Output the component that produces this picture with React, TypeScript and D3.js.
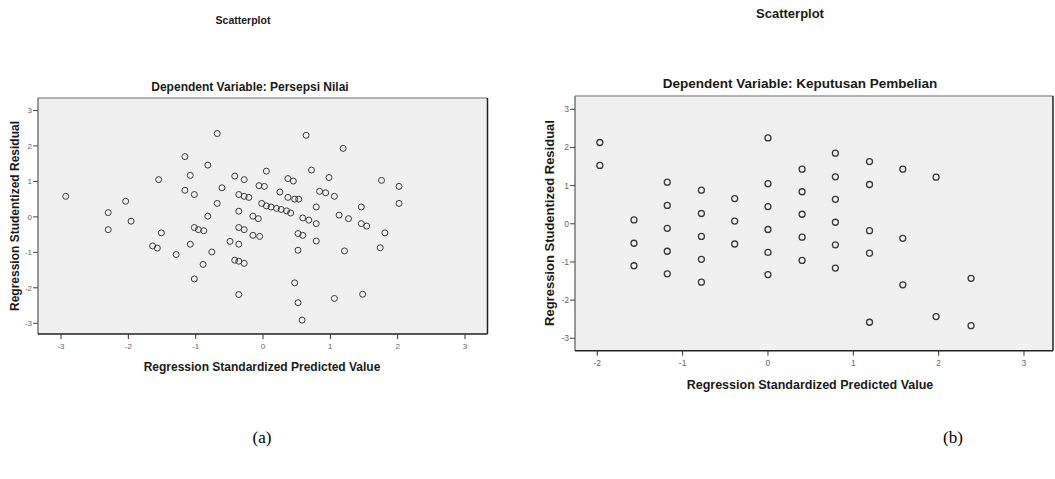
import React from 'react';
import * as d3 from 'd3';

// ---------- data ----------
const xTicksA = [-3, -2, -1, 0, 1, 2, 3];
const yTicksA = [-3, -2, -1, 0, 1, 2, 3];
const xTicksB = [-2, -1, 0, 1, 2, 3];
const yTicksB = [-3, -2, -1, 0, 1, 2, 3];

const predA = [
  -2.93, -2.30, -2.30, -2.04, -1.96, -1.55, -1.51, -1.64, -1.57, -1.29,
  -1.16, -1.08, -1.16, -1.02, -1.02, -0.96, -0.88, -1.08, -1.02, -0.89,
  -0.76, -0.82, -0.82, -0.68, -0.68, -0.61, -0.42, -0.28, -0.36, -0.28,
  -0.21, -0.36, -0.15, -0.07, -0.36, -0.28, -0.15, -0.05, -0.49, -0.36,
  -0.42, -0.36, -0.28, -0.36, -0.06, 0.02, 0.64, 1.19, 0.05, 0.37,
  0.45, 0.72, 0.98, 0.25, 0.37, 0.47, 0.53, 0.84, 0.93, 1.06,
  -0.02, 0.05, 0.12, 0.20, 0.27, 0.35, 0.41, 0.79, 0.59, 0.68,
  0.79, 1.13, 1.27, 1.46, 1.46, 1.54, 1.76, 2.02, 2.02, 1.81,
  1.74, 1.21, 0.52, 0.59, 0.79, 0.52, 0.47, 0.52, 0.58, 1.06,
  1.48,
];
const residA = [
  0.58, 0.12, -0.36, 0.44, -0.12, 1.05, -0.45, -0.82, -0.88, -1.06,
  1.70, 1.17, 0.75, 0.63, -0.30, -0.36, -0.39, -0.77, -1.75, -1.34,
  -0.99, 0.02, 1.46, 2.35, 0.38, 0.82, 1.15, 1.05, 0.63, 0.58,
  0.55, 0.16, 0.02, -0.05, -0.30, -0.36, -0.52, -0.55, -0.69, -0.77,
  -1.22, -1.25, -1.31, -2.19, 0.88, 0.86, 2.30, 1.93, 1.29, 1.08,
  1.01, 1.32, 1.11, 0.70, 0.55, 0.50, 0.50, 0.72, 0.68, 0.58,
  0.38, 0.31, 0.28, 0.24, 0.21, 0.17, 0.11, 0.28, -0.03, -0.09,
  -0.19, 0.05, -0.05, 0.28, -0.19, -0.26, 1.03, 0.86, 0.38, -0.45,
  -0.87, -0.96, -0.47, -0.52, -0.68, -0.94, -1.86, -2.42, -2.91, -2.30,
  -2.18,
];

const predB = [
  -1.97, -1.97,
  -1.57, -1.57, -1.57,
  -1.18, -1.18, -1.18, -1.18, -1.18,
  -0.78, -0.78, -0.78, -0.78, -0.78,
  -0.39, -0.39, -0.39,
  0.00, 0.00, 0.00, 0.00, 0.00, 0.00,
  0.40, 0.40, 0.40, 0.40, 0.40,
  0.79, 0.79, 0.79, 0.79, 0.79, 0.79,
  1.19, 1.19, 1.19, 1.19, 1.19,
  1.58, 1.58, 1.58,
  1.97, 1.97,
  2.38, 2.38,
];
const residB = [
  2.13, 1.53,
  0.10, -0.51, -1.10,
  1.09, 0.48, -0.12, -0.72, -1.31,
  0.88, 0.27, -0.33, -0.93, -1.53,
  0.66, 0.07, -0.53,
  2.25, 1.05, 0.45, -0.15, -0.75, -1.33,
  1.43, 0.84, 0.25, -0.35, -0.96,
  1.85, 1.23, 0.64, 0.04, -0.55, -1.16,
  1.63, 1.03, -0.18, -0.77, -2.58,
  1.43, -0.38, -1.60,
  1.22, -2.43,
  -1.43, -2.67,
];

const SANS = '"Liberation Sans", Arial, "DejaVu Sans", sans-serif';
const SERIF = '"Liberation Serif", "Times New Roman", serif';

type PanelProps = {
  left: number; top: number; right: number; bottom: number;
  xDomain: [number, number]; yDomain: [number, number];
  xTicks: number[]; yTicks: number[];
  pred: number[]; resid: number[];
  title: string; titleX: number; titleY: number; titleSize: number;
  subtitle: string; subX: number; subY: number; subSize: number;
  xTitleX: number; xTitleY: number; xTitleSize: number;
  yTitleX: number; yTitleY: number; yTitleSize: number;
  caption: string; captionX: number; captionY: number;
  tickSize: number; r: number; sw: number;
};

function Panel(p: PanelProps) {
  const x = d3.scaleLinear().domain(p.xDomain).range([p.left, p.right]);
  const y = d3.scaleLinear().domain(p.yDomain).range([p.bottom, p.top]);
  const fmt = (v: number) => (v < 0 ? '-' + Math.abs(v) : String(v));
  return (
    <g>
      <text x={p.titleX} y={p.titleY} textAnchor="middle" fontFamily={SANS}
        fontWeight="bold" fontSize={p.titleSize} fill="#1a1a1a">{p.title}</text>
      <text x={p.subX} y={p.subY} textAnchor="middle" fontFamily={SANS}
        fontWeight="bold" fontSize={p.subSize} fill="#1a1a1a">{p.subtitle}</text>

      <rect x={p.left} y={p.top} width={p.right - p.left} height={p.bottom - p.top} fill="#f0f0f0" />
      <line x1={p.left} y1={p.top} x2={p.right} y2={p.top} stroke="#9a9a9a" strokeWidth={1.5} />
      <line x1={p.left} y1={p.top} x2={p.left} y2={p.bottom} stroke="#777" strokeWidth={1.5} />
      <line x1={p.right} y1={p.top} x2={p.right} y2={p.bottom} stroke="#222" strokeWidth={1.5} />
      <line x1={p.left} y1={p.bottom} x2={p.right} y2={p.bottom} stroke="#222" strokeWidth={1.5} />

      {p.xTicks.map((t) => (
        <g key={'xt' + t}>
          <line x1={x(t)} x2={x(t)} y1={p.bottom} y2={p.bottom + 5} stroke="#333" strokeWidth={1} />
          <text x={x(t)} y={p.bottom + 15} textAnchor="middle" fontFamily={SANS}
            fontSize={p.tickSize} fill="#666">{fmt(t)}</text>
        </g>
      ))}
      {p.yTicks.map((t) => (
        <g key={'yt' + t}>
          <line x1={p.left - 5} x2={p.left} y1={y(t)} y2={y(t)} stroke="#444" strokeWidth={1} />
          <text x={p.left - 6} y={y(t) + 3} textAnchor="end" fontFamily={SANS}
            fontSize={p.tickSize} fill="#666">{fmt(t)}</text>
        </g>
      ))}

      {p.pred.map((v, i) => (
        <circle key={'pt' + i} cx={x(v)} cy={y(p.resid[i])} r={p.r}
          fill="none" stroke="#3a3a3a" strokeWidth={p.sw} />
      ))}

      <text x={p.xTitleX} y={p.xTitleY} textAnchor="middle" fontFamily={SANS}
        fontWeight="bold" fontSize={p.xTitleSize} fill="#1a1a1a">Regression Standardized Predicted Value</text>
      <text transform={`translate(${p.yTitleX},${p.yTitleY}) rotate(-90)`} textAnchor="middle"
        fontFamily={SANS} fontWeight="bold" fontSize={p.yTitleSize} fill="#1a1a1a">Regression Studentized Residual</text>

      <text x={p.captionX} y={p.captionY} textAnchor="middle" fontFamily={SERIF}
        fontSize={17} fill="#000">{p.caption}</text>
    </g>
  );
}

export default function App() {
  return (
    <svg width={1055} height={479} viewBox="0 0 1055 479"
      style={{ position: 'absolute', left: 0, top: 0, background: '#fff' }}>
      <rect x={0} y={0} width={1055} height={479} fill="#fff" />
      <Panel
        left={38} top={98} right={487.5} bottom={334}
        xDomain={[-3.342, 3.334]} yDomain={[-3.302, 3.352]}
        xTicks={xTicksA} yTicks={yTicksA}
        pred={predA} resid={residA}
        title="Scatterplot" titleX={243} titleY={24} titleSize={10.5}
        subtitle="Dependent Variable: Persepsi Nilai" subX={250} subY={91} subSize={12}
        xTitleX={262} xTitleY={371} xTitleSize={12}
        yTitleX={19} yTitleY={216} yTitleSize={12}
        caption="(a)" captionX={262} captionY={443}
        tickSize={8} r={3} sw={1}
      />
      <Panel
        left={575} top={96} right={1053} bottom={350.7}
        xDomain={[-2.261, 3.34]} yDomain={[-3.325, 3.348]}
        xTicks={xTicksB} yTicks={yTicksB}
        pred={predB} resid={residB}
        title="Scatterplot" titleX={790} titleY={18} titleSize={13}
        subtitle="Dependent Variable: Keputusan Pembelian" subX={800} subY={88} subSize={13.5}
        xTitleX={810} xTitleY={389} xTitleSize={12.5}
        yTitleX={554} yTitleY={223} yTitleSize={13}
        caption="(b)" captionX={953} captionY={443}
        tickSize={8.5} r={3} sw={1.3}
      />
    </svg>
  );
}
